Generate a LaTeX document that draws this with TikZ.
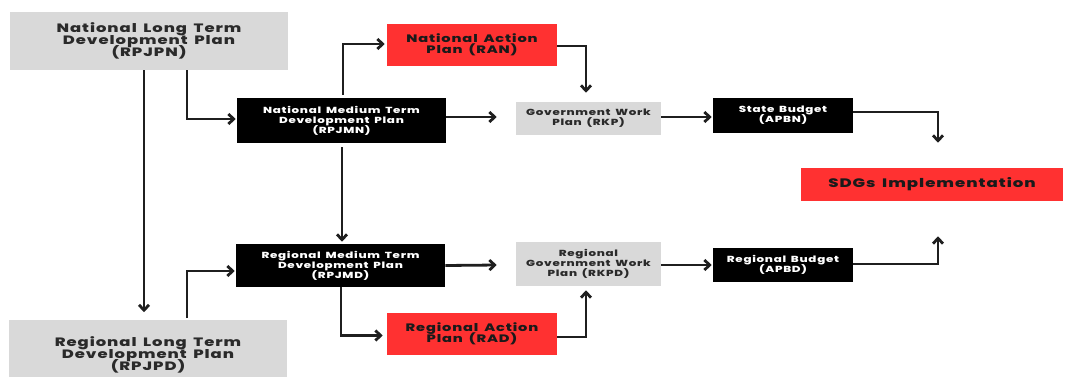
\documentclass[tikz,border=0pt]{standalone}
\usepackage{fontspec}
\setmainfont{Poppins}[FakeStretch=1.35, LetterSpace=8, WordSpace=1.6, BoldFont={Poppins ExtraBold}]
\usetikzlibrary{arrows.meta,calc}
\definecolor{boxgray}{HTML}{D9D9D9}
\definecolor{boxred}{HTML}{FF3131}
\definecolor{txtdark}{HTML}{2A2A2A}
\definecolor{txtred}{HTML}{1A1A1A}
\setlength{\lineskiplimit}{-50pt}
\begin{document}
\setlength{\lineskiplimit}{-50pt}
\begin{tikzpicture}[x=0.75pt,y=-0.75pt,
  base/.style={rectangle, inner sep=0pt, align=center, anchor=center},
  wh/.style 2 args={minimum width=#1*0.75pt, minimum height=#2*0.75pt},
  graybox/.style={base, fill=boxgray, text=txtdark},
  redbox/.style={base, fill=boxred, text=txtred},
  blackbox/.style={base, fill=black, text=white},
  bigtxt/.style={font=\bfseries\fontsize{9.1}{9}\selectfont},
  midtxt/.style={font=\bfseries\fontsize{8.1}{8.5}\selectfont},
  smalltxt/.style={font=\bfseries\fontsize{6.6}{7.5}\selectfont},
  sdgtxt/.style={font=\bfseries\fontsize{9.2}{12}\selectfont},
  arr/.style={-{Straight Barb[length=4pt,width=7.5pt]}, line width=2.1pt, draw=black!88}
]
\useasboundingbox (0,0) rectangle (1065,376);
\clip (0,0) rectangle (1065,376);
\fill[white] (0,0) rectangle (1065,376);

% nodes
\node[graybox, bigtxt, wh={278}{58}] (npn) at (149,41) {National Long Term\\Development Plan\\(RPJPN)};
\node[redbox, midtxt, wh={170}{42}] (ran) at (472,45) {National Action\\Plan (RAN)};
\node[blackbox, smalltxt, wh={209}{45}] (nmn) at (341.5,120.5) {National Medium Term\\Development Plan\\(RPJMN)};
\node[graybox, smalltxt, wh={145}{33}] (rkp) at (588.5,118.5) {Government Work\\Plan (RKP)};
\node[blackbox, smalltxt, wh={140}{35}] (apbn) at (783,115.5) {State Budget\\(APBN)};
\node[redbox, sdgtxt, wh={262}{33}] (sdg) at (932,184.5) {SDGs Implementation};
\node[blackbox, smalltxt, wh={209}{43}] (rmd) at (340.5,265.5) {Regional Medium Term\\Development Plan\\(RPJMD)};
\node[graybox, smalltxt, wh={145}{44}] (rkpd) at (588.5,264) {Regional\\Government Work\\Plan (RKPD)};
\node[blackbox, smalltxt, wh={140}{34}] (apbd) at (783,265) {Regional Budget\\(APBD)};
\node[redbox, midtxt, wh={170}{42}] (rad) at (472,334) {Regional Action\\Plan (RAD)};
\node[graybox, bigtxt, wh={278}{70}] (rpd) at (148,354.5) {Regional Long Term\\Development Plan\\(RPJPD)};

% connectors
\draw[arr] ($(npn.south)+(-5,0)$) -- ($(npn.south |- rpd.north)+(-5,-7)$);
\draw[arr] ($(npn.south)+(38,0)$) |- ($(nmn.west)+(-1,-1.5)$);
\draw[arr] ($(nmn.north)+(1.5,-3)$) |- ($(ran.west)+(-2,-1)$);
\draw[arr] ($(nmn.east)+(0,-3.5)$) -- ($(rkp.west)+(-19,-1.5)$);
\draw[arr] ($(ran.east)+(0,1)$) -| ($(rkp.north)+(-2.5,-9)$);
\draw[arr] ($(rkp.east)+(0,-1.5)$) -- ($(apbn.west)+(-1,1.5)$);
\draw[arr] ($(apbn.east)+(0,-3.5)$) -| ($(sdg.north)+(6,-25)$);
\draw[arr] ($(nmn.south)+(0.5,4)$) -- ($(nmn.south |- rmd.north)+(0.5,-2)$);
\draw[arr] ($(rpd.north)+(39,-1)$) |- ($(rmd.west)+(-1,5.5)$);
\draw[arr] (rmd.east) -- ($(rkpd.west)+(-19,1)$);
\draw[arr] ($(rmd.south)+(0.5,0)$) |- ($(rad.west)+(-4,1.5)$);
\draw[arr] ($(rad.east)+(0,3)$) -| ($(rkpd.south)+(-2.5,4)$);
\draw[arr] ($(rkpd.east)+(0,1)$) -- ($(apbd.west)+(-1,0)$);
\draw[arr] ($(apbd.east)+(0,-1)$) -| ($(sdg.south)+(6,35)$);
\end{tikzpicture}
\end{document}
